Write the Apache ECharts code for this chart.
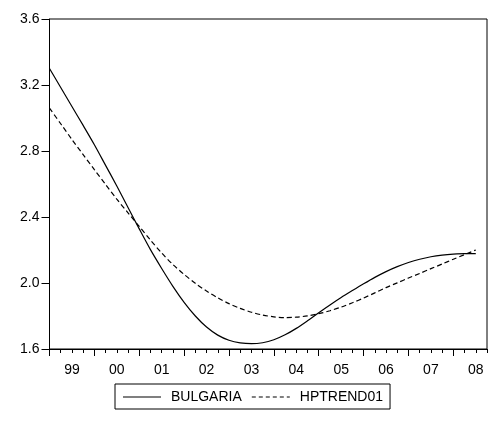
<!DOCTYPE html>
<html><head><meta charset="utf-8">
<script src="https://cdn.jsdelivr.net/npm/echarts@6/dist/echarts.min.js"></script>
<style>html,body{margin:0;padding:0;background:#fff}#c{width:489px;height:424px}</style>
</head><body><div id="c"></div>
<script>
var years = ['99','00','01','02','03','04','05','06','07','08'];
var quarters = ['Q1','Q2','Q3','Q4'];
var yTicks = [1.6, 2.0, 2.4, 2.8, 3.2, 3.6];
var bulgaria = [3.300,3.185,3.070,2.955,2.838,2.713,2.588,2.458,2.328,2.202,2.088,1.980,1.883,1.800,1.733,1.684,1.653,1.637,1.632,1.638,1.656,1.686,1.725,1.771,1.820,1.867,1.912,1.954,1.995,2.034,2.069,2.099,2.124,2.144,2.159,2.169,2.175,2.178,2.178];
var hptrend01 = [3.060,2.965,2.870,2.778,2.687,2.597,2.508,2.425,2.343,2.260,2.182,2.112,2.052,1.998,1.951,1.910,1.875,1.846,1.823,1.806,1.795,1.790,1.793,1.801,1.814,1.832,1.854,1.880,1.909,1.940,1.972,2.001,2.030,2.058,2.087,2.115,2.144,2.172,2.200];

var cats = [];
years.forEach(function(y){ quarters.forEach(function(q){ cats.push(y + q); }); });

var font = 'Arial, "Liberation Sans", sans-serif';
var solidIcon = 'path://M0,0H38V1.2H0Z';
var dashedIcon = 'path://M0,0H4V1.2H0Z M7,0H11V1.2H7Z M14,0H18V1.2H14Z M21,0H25V1.2H21Z M28,0H32V1.2H28Z M35,0H38V1.2H35Z';
var chart = echarts.init(document.getElementById('c'), null, {renderer:'canvas'});
chart.setOption({
  animation: false,
  backgroundColor: '#fff',
  grid: {left: 49.5, right: 2, top: 19, bottom: 75, show: true, borderColor: '#000', borderWidth: 1, backgroundColor: 'transparent'},
  legend: {
    left: 115, top: 384, padding: [6, 7, 5, 8], borderColor: '#000', borderWidth: 1,
    itemWidth: 38, itemHeight: 1.2, itemGap: 10,
    textStyle: {fontFamily: font, fontSize: 14, color: '#000', padding: [0, 0, 0, 5]},
    data: [{name: 'BULGARIA', icon: solidIcon}, {name: 'HPTREND01', icon: dashedIcon}]
  },
  xAxis: [{
    type: 'category', data: cats, boundaryGap: false, position: 'bottom',
    axisLine: {lineStyle: {color: '#000', width: 1}},
    axisTick: {show: true, interval: 0, length: 4, lineStyle: {color: '#000'}},
    axisLabel: {
      interval: function(i){ return i % 4 === 2; },
      formatter: function(v){ return v.slice(0, 2); },
      margin: 14, fontFamily: font, fontSize: 14, color: '#000'
    },
    splitLine: {show: false}
  }, {
    type: 'category', data: cats, boundaryGap: false, position: 'bottom',
    axisLine: {show: false},
    axisTick: {show: true, interval: function(i){ return i % 4 === 0; }, length: 7, lineStyle: {color: '#000'}},
    axisLabel: {show: false},
    splitLine: {show: false}
  }],
  yAxis: {
    type: 'value', min: yTicks[0], max: yTicks[yTicks.length - 1], interval: 0.4,
    axisLine: {show: true, lineStyle: {color: '#000'}},
    axisTick: {show: true, length: 8, lineStyle: {color: '#000'}},
    axisLabel: {formatter: function(v){ return v.toFixed(1); }, margin: 10, fontFamily: font, fontSize: 14, color: '#000'},
    splitLine: {show: false}
  },
  series: [{
    name: 'BULGARIA', type: 'line', data: bulgaria, xAxisIndex: 0, symbol: 'none', smooth: 0.3,
    lineStyle: {color: '#000', width: 1.2, type: 'solid'}, itemStyle: {color: '#000'}
  }, {
    name: 'HPTREND01', type: 'line', data: hptrend01, xAxisIndex: 0, symbol: 'none', smooth: 0.3,
    lineStyle: {color: '#000', width: 1.2, type: [5, 3]}, itemStyle: {color: '#000'}
  }]
});
</script></body></html>
